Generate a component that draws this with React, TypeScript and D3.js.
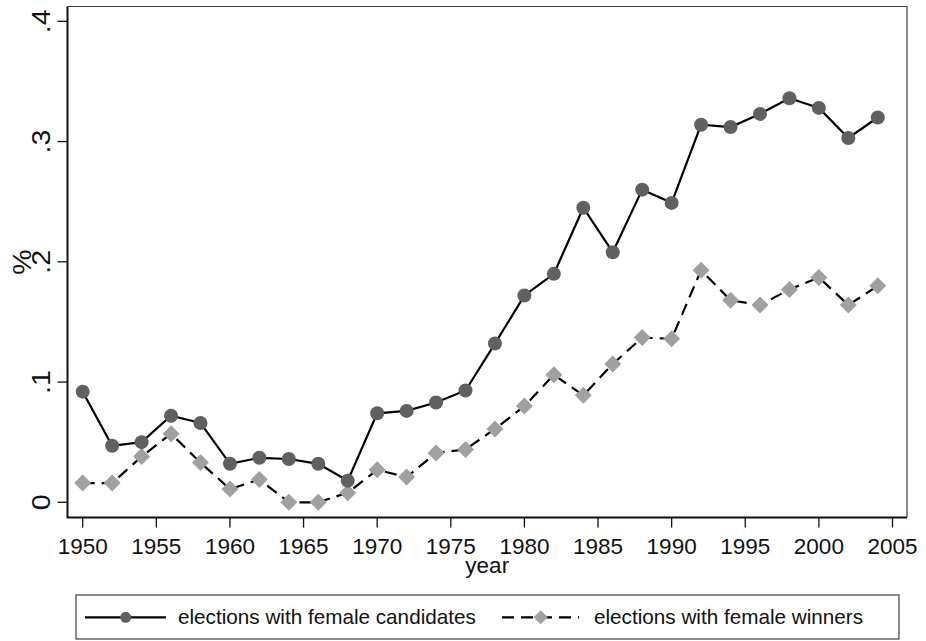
import React from "react";
import * as d3 from "d3";

const years = [1950,1952,1954,1956,1958,1960,1962,1964,1966,1968,1970,1972,1974,1976,1978,1980,1982,1984,1986,1988,1990,1992,1994,1996,1998,2000,2002,2004];
const candidates = [0.092,0.047,0.050,0.072,0.066,0.032,0.037,0.036,0.032,0.018,0.074,0.076,0.083,0.093,0.132,0.172,0.190,0.245,0.208,0.260,0.249,0.314,0.312,0.323,0.336,0.328,0.303,0.320];
const winners = [0.016,0.016,0.038,0.057,0.033,0.011,0.019,0.0,0.0,0.008,0.027,0.021,0.041,0.044,0.061,0.080,0.106,0.089,0.115,0.137,0.136,0.193,0.168,0.164,0.177,0.187,0.164,0.180];
const xTicks = [1950,1955,1960,1965,1970,1975,1980,1985,1990,1995,2000,2005];
const yTicks = [0,0.1,0.2,0.3,0.4];
const yTickLabels = ["0",".1",".2",".3",".4"];
const legendLabels = ["elections with female candidates","elections with female winners"];

const W = 926, H = 641;
const frame = { left: 67.5, right: 907, top: 6.5, bottom: 517.5 };
const FONT = "Liberation Sans, Arial, sans-serif";

export default function App() {
  const x = d3.scaleLinear().domain([1950, 2005]).range([82.7, 892.5]);
  const y = d3.scaleLinear().domain([0, 0.4]).range([502.3, 21.3]);
  const line = d3.line<[number, number]>().x(d => x(d[0])).y(d => y(d[1]));
  const candPts: [number, number][] = years.map((yr, i) => [yr, candidates[i]]);
  const winPts: [number, number][] = years.map((yr, i) => [yr, winners[i]]);
  const diamond = (cx: number, cy: number, r: number) =>
    `M${cx},${cy - r}L${cx + r},${cy}L${cx},${cy + r}L${cx - r},${cy}Z`;
  const circColor = "#606060";
  const diaColor = "#a0a0a0";
  const dash = "12,7";

  return (
    <svg width={W} height={H} style={{ position: "absolute", left: 0, top: 0, background: "#fff" }} fontFamily={FONT}>
      <rect x={0} y={0} width={W} height={H} fill="#fff" />
      {/* frame top/right */}
      <path d={`M${frame.left},${frame.top}H${frame.right}V${frame.bottom}`} fill="none" stroke="#404040" strokeWidth={1.2} />
      {/* axes */}
      <path d={`M${frame.left},${frame.top}V${frame.bottom}H${frame.right}`} fill="none" stroke="#111" strokeWidth={2} />
      {/* y ticks */}
      {yTicks.map((t, i) => (
        <g key={"y" + i}>
          <line x1={57.5} x2={frame.left} y1={y(t)} y2={y(t)} stroke="#111" strokeWidth={1.3} />
          <text transform={`translate(${50},${y(t)}) rotate(-90) scale(1.12,1)`} textAnchor="middle" fontSize={25.5} fill="#111">{yTickLabels[i]}</text>
        </g>
      ))}
      {/* x ticks */}
      {xTicks.map((t, i) => (
        <g key={"x" + i}>
          <line x1={x(t)} x2={x(t)} y1={frame.bottom} y2={527.5} stroke="#111" strokeWidth={1.3} />
          <text x={x(t)} y={554.3} textAnchor="middle" fontSize={22.5} fill="#111">{t}</text>
        </g>
      ))}
      <text x={(frame.left + frame.right) / 2} y={573} textAnchor="middle" fontSize={22.5} fill="#111">year</text>
      <text transform={`translate(${31},${262}) rotate(-90) scale(1.12,1)`} textAnchor="middle" fontSize={25.5} fill="#111">%</text>

      {/* series */}
      <path d={line(winPts) || ""} fill="none" stroke="#000" strokeWidth={2.2} strokeDasharray={dash} />
      <path d={line(candPts) || ""} fill="none" stroke="#000" strokeWidth={2.2} />
      {winPts.map((p, i) => (
        <path key={"w" + i} d={diamond(x(p[0]), y(p[1]), 8.5)} fill={diaColor} />
      ))}
      {candPts.map((p, i) => (
        <circle key={"c" + i} cx={x(p[0])} cy={y(p[1])} r={7} fill={circColor} />
      ))}

      {/* legend */}
      <rect x={76} y={595} width={823} height={44} fill="#fff" stroke="#404040" strokeWidth={1.2} />
      <line x1={85} x2={166} y1={617.3} y2={617.3} stroke="#000" strokeWidth={2.2} />
      <circle cx={125.7} cy={617.3} r={5.5} fill={circColor} />
      <text x={178} y={624} fontSize={20.7} fill="#111">{legendLabels[0]}</text>
      <line x1={502} x2={579} y1={617.3} y2={617.3} stroke="#000" strokeWidth={2.2} strokeDasharray={dash} />
      <path d={diamond(540.7, 617.3, 7)} fill={diaColor} />
      <text x={594} y={624} fontSize={20.7} fill="#111">{legendLabels[1]}</text>
    </svg>
  );
}
